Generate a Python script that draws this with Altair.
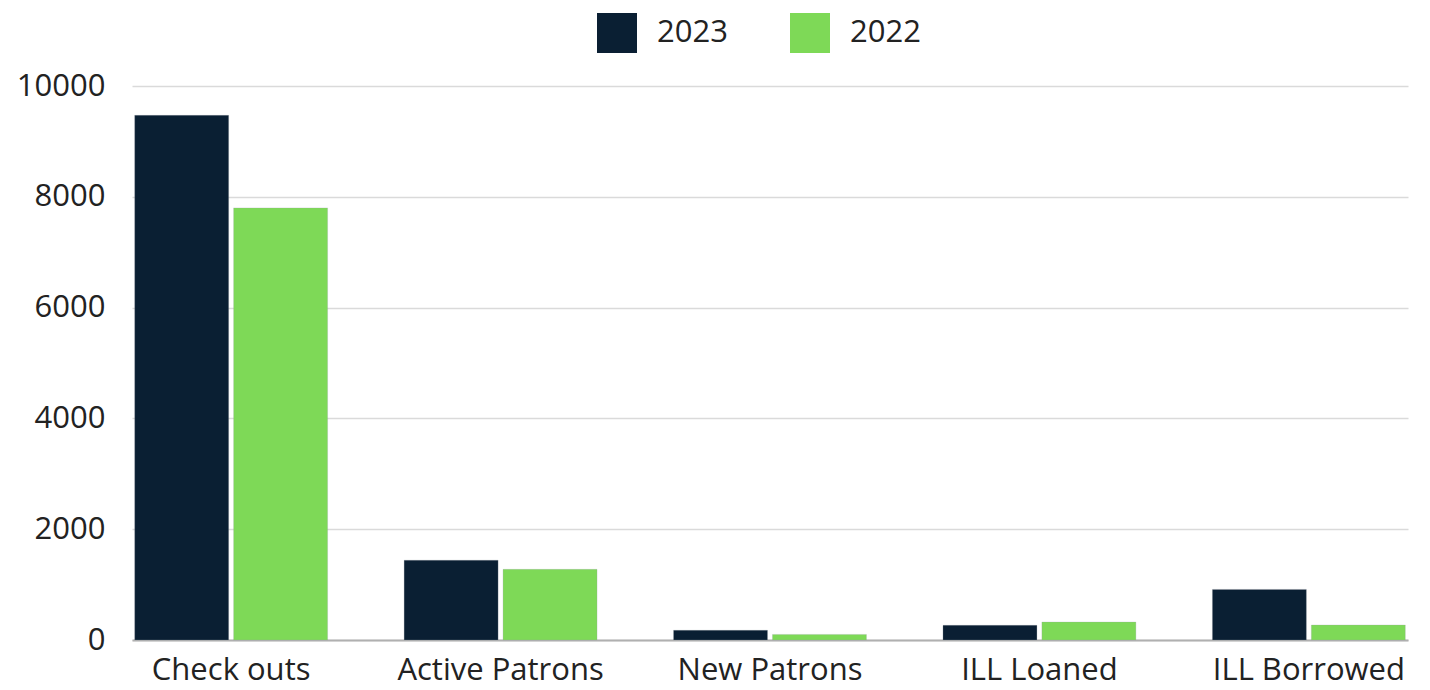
import altair as alt
import pandas as pd

categories = ["Check outs", "Active Patrons", "New Patrons", "ILL Loaned", "ILL Borrowed"]
values_2023 = [9470, 1440, 175, 265, 913]
values_2022 = [7800, 1275, 100, 324, 270]
years = ["2023", "2022"]
colors = ["#0a1f33", "#7ed957"]

rows = []
for c, v23, v22 in zip(categories, values_2023, values_2022):
    rows.append({"category": c, "year": "2023", "value": v23})
    rows.append({"category": c, "year": "2022", "value": v22})
df = pd.DataFrame(rows)

FONT = "Open Sans"
TXT = "#222222"
FS = 31

chart = alt.Chart(df).mark_bar(stroke="#9aa0a6", strokeWidth=0.5, strokeOpacity=0.5).encode(
    x=alt.X("category:N", sort=categories, title=None,
            scale=alt.Scale(paddingInner=0.284, paddingOuter=0.01),
            axis=alt.Axis(labelAngle=0, labelFontSize=FS, labelFont=FONT, labelColor=TXT,
                          labelLimit=0, ticks=False, domain=True, domainColor="#b0b0b0",
                          domainWidth=2, labelPadding=15)),
    xOffset=alt.XOffset("year:N", sort=years, scale=alt.Scale(paddingInner=0.05)),
    y=alt.Y("value:Q", title=None,
            scale=alt.Scale(domain=[0, 10000]),
            axis=alt.Axis(values=[0, 2000, 4000, 6000, 8000, 10000], format="d",
                          labelFontSize=FS, labelFont=FONT, labelColor=TXT, ticks=False,
                          domain=False, gridColor="#dadada", gridWidth=1.5, labelPadding=27)),
    color=alt.Color("year:N", sort=years, scale=alt.Scale(domain=years, range=colors),
                    legend=alt.Legend(title=None, orient="none", direction="horizontal",
                                      legendX=465, legendY=-73, symbolType="square",
                                      symbolSize=1600, symbolStrokeWidth=0, symbolOpacity=1,
                                      labelFontSize=FS, labelFont=FONT, labelColor=TXT,
                                      labelOffset=20, columnPadding=62, padding=0)),
).properties(
    width=1276, height=554,
    autosize=alt.AutoSizeParams(type="none"),
    padding={"left": 124, "top": 78, "right": 10, "bottom": 50},
).configure_view(stroke=None)

chart.save("out.html", embed_options={"renderer": "svg", "actions": False})
